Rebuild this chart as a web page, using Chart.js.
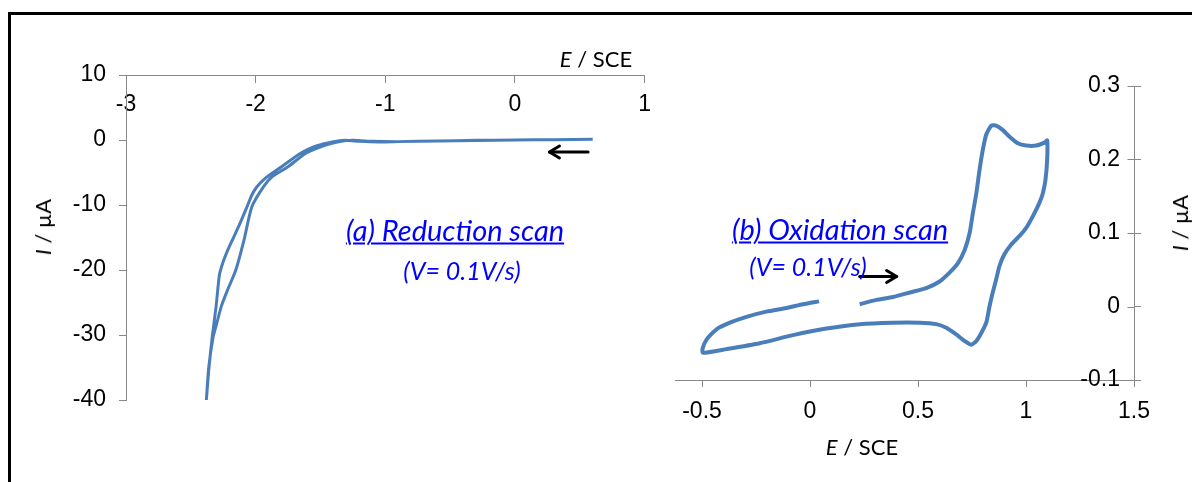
<!DOCTYPE html>
<html><head><meta charset="utf-8">
<script src="https://cdn.jsdelivr.net/npm/chart.js@4.4.1/dist/chart.umd.min.js"></script>
<style>
html,body{margin:0;padding:0;background:#fff;width:1192px;height:482px;overflow:hidden;position:relative;}
#frame{position:absolute;left:8px;top:12px;width:1300px;height:600px;border-left:3px solid #000;border-top:3px solid #000;}
canvas{position:absolute;top:0;}
.t{position:absolute;white-space:nowrap;line-height:1;transform:translate(-50%,-50%);}
.ax{font-family:Lato,"Open Sans",sans-serif;font-size:22px;color:#000;}
.rot{transform:translate(-50%,-50%) rotate(-90deg);}
.note{font-family:Lato,"Open Sans",sans-serif;font-style:italic;color:#0000ff;}
.u{text-decoration:underline;text-decoration-thickness:1.5px;text-underline-offset:2px;}
</style></head>
<body>
<div id="frame"></div>
<canvas id="cL" width="660" height="482" style="left:0;width:660px;height:482px"></canvas>
<canvas id="cR" width="532" height="482" style="left:660px;width:532px;height:482px"></canvas>
<div class="t ax" style="left:596px;top:59px"><i>E</i> / SCE</div>
<div class="t ax" style="left:862px;top:447px"><i>E</i> / SCE</div>
<div class="t ax rot" style="left:43px;top:227px"><i>I</i> / µA</div>
<div class="t ax rot" style="left:1180px;top:223px"><i>I</i> / µA</div>
<div class="t note u" style="left:455px;top:229px;font-size:29px">(a) Reduction scan</div>
<div class="t note" style="left:462px;top:270px;font-size:25px">(V= 0.1V/s)</div>
<div class="t note u" style="left:840px;top:228px;font-size:29px">(b) Oxidation scan</div>
<div class="t note" style="left:808px;top:266px;font-size:25px">(V= 0.1V/s)</div>
<script>
// ---- data: (a) reduction scan ----
const redE = [0.60, 0.30, 0.00, -0.30, -0.60, -0.90, -1.05, -1.20, -1.31, -1.41, -1.52, -1.65, -1.80, -1.92, -1.99, -2.03, -2.067, -2.12, -2.18, -2.225, -2.255, -2.28, -2.305, -2.335, -2.36, -2.38,
              -2.362, -2.328, -2.300, -2.265, -2.217, -2.153, -2.09, -2.03, -1.94, -1.87, -1.75, -1.61, -1.46, -1.36, -1.25, -1.10, -0.90, -0.60, -0.30, 0.00, 0.30, 0.55];
const redI = [0.10, 0.05, 0.00, -0.08, -0.15, -0.25, -0.30, -0.20, -0.05, -0.30, -0.85, -2.0, -4.1, -5.8, -7.2, -8.5, -10.3, -12.8, -15.4, -17.4, -19.0, -20.8, -25.6, -30.3, -35.0, -40.0,
              -35.0, -30.3, -28.2, -25.6, -23.1, -20.0, -15.4, -10.3, -7.2, -5.6, -4.1, -2.0, -0.77, -0.26, -0.05, -0.20, -0.25, -0.15, -0.05, 0.00, 0.05, 0.08];
// ---- data: (b) oxidation scan ----
const oxE = [0.230, 0.307, 0.384, 0.461, 0.538, 0.600, 0.646, 0.685, 0.716, 0.739, 0.754, 0.770, 0.785, 0.800, 0.816, 0.839, 0.862, 0.893, 0.924, 0.962, 1.001, 1.047, 1.086, 1.098,
             1.098, 1.090, 1.078, 1.062, 1.032, 1.001, 0.970, 0.931, 0.900, 0.877, 0.862, 0.846, 0.831, 0.816, 0.793, 0.770, 0.746, 0.716, 0.677, 0.631, 0.585, 0.507, 0.384, 0.230, 0.076, -0.079, -0.233, -0.387, -0.495,
             -0.498, -0.479, -0.433, -0.371, -0.294, -0.202, -0.109, -0.032, 0.042];
const oxI = [0.003, 0.009, 0.013, 0.019, 0.025, 0.034, 0.046, 0.059, 0.077, 0.100, 0.127, 0.154, 0.186, 0.213, 0.234, 0.246, 0.246, 0.240, 0.231, 0.222, 0.219, 0.219, 0.223, 0.226,
             0.200, 0.172, 0.154, 0.141, 0.123, 0.107, 0.096, 0.084, 0.071, 0.055, 0.037, 0.019, 0.000, -0.022, -0.036, -0.047, -0.052, -0.047, -0.038, -0.029, -0.024, -0.022, -0.022, -0.024, -0.030, -0.039, -0.050, -0.058, -0.063,
             -0.058, -0.045, -0.031, -0.022, -0.014, -0.007, -0.002, 0.003, 0.007];
// ---- tick labels ----
const leftXTicks = [-3, -2, -1, 0, 1];
const leftYTicks = [10, 0, -10, -20, -30, -40];
const rightXTicks = [-0.5, 0, 0.5, 1, 1.5];
const rightYTicks = [0.3, 0.2, 0.1, 0, -0.1];
// ---- scan-direction arrows (data coordinates: from -> to) ----
const leftArrow = {from: [0.564, -1.85], to: [0.266, -1.85]};
const rightArrow = {from: [0.230, 0.0407], to: [0.401, 0.0407]};

const BLUE = '#4a7ebb', GRAY = '#888888';
const tickFont = {family: '"Liberation Sans", Arial, sans-serif', size: 23};
const fmt = v => String(Math.round(v * 1000) / 1000);
const pts = (xs, ys) => xs.map((x, i) => ({x, y: ys[i]}));

function arrowPlugin(arrow) {
  return {id: 'arrow', afterDatasetsDraw(chart) {
    const {ctx, scales: {x, y}} = chart;
    const x1 = x.getPixelForValue(arrow.from[0]), y1 = y.getPixelForValue(arrow.from[1]);
    const x2 = x.getPixelForValue(arrow.to[0]), y2 = y.getPixelForValue(arrow.to[1]);
    const dir = Math.sign(x2 - x1);
    ctx.save(); ctx.strokeStyle = '#000'; ctx.lineWidth = 3; ctx.lineCap = 'round'; ctx.lineJoin = 'round';
    ctx.beginPath(); ctx.moveTo(x1, y1); ctx.lineTo(x2, y2); ctx.stroke();
    ctx.beginPath(); ctx.moveTo(x2 - dir * 10, y2 - 6); ctx.lineTo(x2, y2); ctx.lineTo(x2 - dir * 10, y2 + 6); ctx.stroke();
    ctx.restore();
  }};
}
const innerTicks = {id: 'innerTicks', afterDraw(chart) {
  const {ctx, scales: {x, y}} = chart;
  const ax = Math.round(x.getPixelForValue(1.5)) + 0.5;
  ctx.save(); ctx.strokeStyle = GRAY; ctx.lineWidth = 1;
  rightYTicks.forEach(v => { const py = Math.round(y.getPixelForValue(v)) + 0.5; ctx.beginPath(); ctx.moveTo(ax - 7, py); ctx.lineTo(ax, py); ctx.stroke(); });
  ctx.restore();
}};

Chart.defaults.animation = false;

new Chart(document.getElementById('cL'), {
  type: 'scatter',
  data: {datasets: [{data: pts(redE, redI), showLine: true, borderColor: BLUE, borderWidth: 3, pointRadius: 0, tension: 0.2, fill: false}]},
  options: {
    responsive: false, devicePixelRatio: 1,
    layout: {padding: {left: 0, top: 75, right: 11, bottom: 82}},
    plugins: {legend: {display: false}, tooltip: {enabled: false}},
    scales: {
      x: {type: 'linear', position: {y: 10}, min: -3, max: 1,
          afterBuildTicks: s => { s.ticks = leftXTicks.map(v => ({value: v})); },
          grid: {drawOnChartArea: false, tickLength: 7, color: GRAY},
          border: {color: GRAY, width: 1},
          ticks: {font: tickFont, color: '#000', padding: 9, autoSkip: false, maxRotation: 0, callback: fmt}},
      y: {type: 'linear', position: 'left', min: -40, max: 10,
          afterBuildTicks: s => { s.ticks = leftYTicks.map(v => ({value: v})); },
          afterFit: s => { s.width = 126; },
          grid: {drawOnChartArea: false, tickLength: 7, color: GRAY},
          border: {color: GRAY, width: 1},
          ticks: {font: tickFont, color: '#000', padding: 13, autoSkip: false, callback: fmt}}
    }
  },
  plugins: [arrowPlugin(leftArrow)]
});

new Chart(document.getElementById('cR'), {
  type: 'scatter',
  data: {datasets: [{data: pts(oxE, oxI), showLine: true, borderColor: BLUE, borderWidth: 4, pointRadius: 0, tension: 0.2, fill: false}]},
  options: {
    responsive: false, devicePixelRatio: 1,
    layout: {padding: {left: 15, top: 86, right: 0, bottom: 0}},
    plugins: {legend: {display: false}, tooltip: {enabled: false}},
    scales: {
      x: {type: 'linear', position: 'bottom', min: -0.625, max: 1.5,
          afterBuildTicks: s => { s.ticks = rightXTicks.map(v => ({value: v})); },
          afterFit: s => { s.height = 102; },
          grid: {drawOnChartArea: false, tickLength: 7, color: GRAY},
          border: {color: GRAY, width: 1},
          ticks: {font: tickFont, color: '#000', padding: 11, autoSkip: false, maxRotation: 0, callback: fmt}},
      y: {type: 'linear', position: 'right', min: -0.1, max: 0.3,
          afterBuildTicks: s => { s.ticks = rightYTicks.map(v => ({value: v})); },
          afterFit: s => { s.width = 58; },
          grid: {drawOnChartArea: false, tickLength: 7, color: GRAY},
          border: {color: GRAY, width: 1},
          ticks: {font: tickFont, color: '#000', mirror: true, padding: -14, autoSkip: false, callback: fmt}}
    }
  },
  plugins: [arrowPlugin(rightArrow), innerTicks]
});
</script>
</body></html>
